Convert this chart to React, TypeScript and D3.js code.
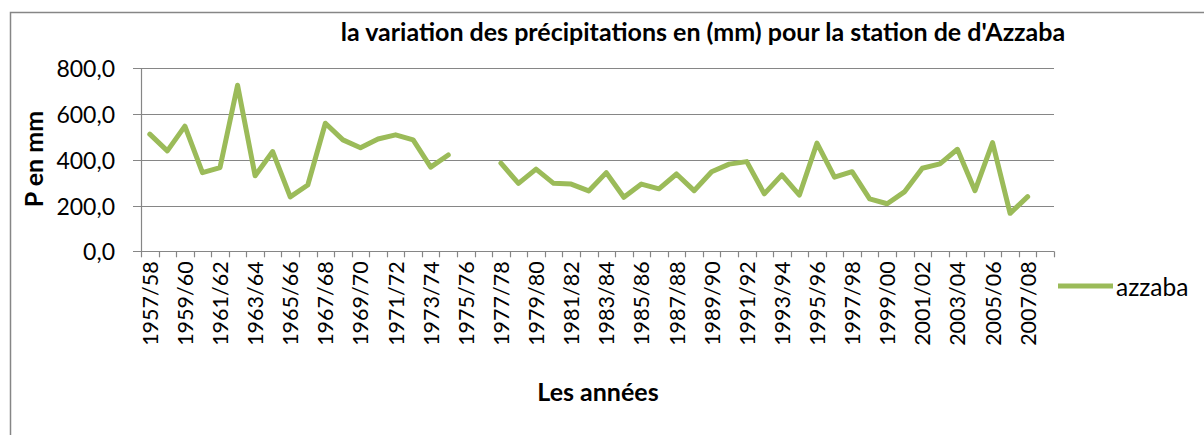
import React, { useRef, useEffect } from "react";
import * as d3 from "d3";

// season labels, 1957/58 .. 2008/09
const years: string[] = [];
for (let y = 1957; y <= 2008; y++) {
  years.push(`${y}/${String((y + 1) % 100).padStart(2, "0")}`);
}

// precipitation (mm), null = missing year
const azzaba: (number | null)[] = [
  512, 439, 547, 344, 366, 726, 330, 436, 238, 290,
  560, 487, 453, 491, 509, 487, 368, 421, null, null,
  385, 297, 359, 297, 294, 264, 344, 236, 294, 273,
  338, 265, 348, 381, 392, 251, 334, 246, 473, 324,
  348, 229, 208, 261, 363, 382, 446, 265, 475, 166,
  239, null,
];

const yTicks = [0, 200, 400, 600, 800];

const W = 1204;
const H = 435;
const font = "Lato, 'Open Sans', sans-serif";
const grey = "#868686";
const green = "#9BBB59";

export default function App() {
  const svgRef = useRef<SVGSVGElement | null>(null);

  useEffect(() => {
    const svg = d3.select(svgRef.current);
    svg.selectAll("*").remove();

    const left = 141;
    const right = 1054;
    const top = 68.3;
    const bottom = 251.3;

    // outer chart frame
    svg
      .append("rect")
      .attr("x", 10.5)
      .attr("y", 12.5)
      .attr("width", 1300)
      .attr("height", 600)
      .attr("fill", "#fff")
      .attr("stroke", grey)
      .attr("stroke-width", 1.5);

    const x = d3.scaleBand().domain(years).range([left, right]);
    const y = d3.scaleLinear().domain([0, 800]).range([bottom, top]);

    // gridlines + y ticks
    svg
      .append("g")
      .selectAll("line")
      .data(yTicks)
      .enter()
      .append("line")
      .attr("x1", left - 8)
      .attr("x2", right)
      .attr("y1", (d) => Math.round(y(d)) + 0.5)
      .attr("y2", (d) => Math.round(y(d)) + 0.5)
      .attr("stroke", grey)
      .attr("stroke-width", 1.2);

    svg
      .append("g")
      .selectAll("text")
      .data(yTicks)
      .enter()
      .append("text")
      .attr("x", left - 26)
      .attr("y", (d) => y(d))
      .attr("text-anchor", "end")
      .attr("dominant-baseline", "central")
      .attr("font-family", font)
      .attr("font-size", 23)
      .attr("fill", "#000")
      .text((d) => d3.format(".1f")(d).replace(".", ","));

    // y axis line
    svg
      .append("line")
      .attr("x1", left + 0.5)
      .attr("x2", left + 0.5)
      .attr("y1", top)
      .attr("y2", bottom)
      .attr("stroke", grey)
      .attr("stroke-width", 1.2);

    // x axis ticks at category boundaries
    const bounds = years.map((d) => x(d) as number).concat([right]);
    svg
      .append("g")
      .selectAll("line")
      .data(bounds)
      .enter()
      .append("line")
      .attr("x1", (d) => Math.round(d) + 0.5)
      .attr("x2", (d) => Math.round(d) + 0.5)
      .attr("y1", bottom)
      .attr("y2", bottom + 6)
      .attr("stroke", grey)
      .attr("stroke-width", 1.2);

    // x labels, every other year
    svg
      .append("g")
      .selectAll("text")
      .data(years.filter((d, i) => i % 2 === 0))
      .enter()
      .append("text")
      .attr("transform", (d) => {
        const cx = (x(d) as number) + x.bandwidth() / 2;
        return `translate(${cx},${bottom + 10}) rotate(-90)`;
      })
      .attr("text-anchor", "end")
      .attr("dominant-baseline", "central")
      .attr("font-family", font)
      .attr("font-size", 21.5)
      .attr("fill", "#000")
      .text((d) => d);

    // series line
    const line = d3
      .line<number | null>()
      .defined((d) => d !== null)
      .x((d, i) => (x(years[i]) as number) + x.bandwidth() / 2)
      .y((d) => y(d as number));

    svg
      .append("path")
      .datum(azzaba)
      .attr("d", line)
      .attr("fill", "none")
      .attr("stroke", green)
      .attr("stroke-width", 5)
      .attr("stroke-linejoin", "round")
      .attr("stroke-linecap", "round");

    // title
    svg
      .append("text")
      .attr("x", 703)
      .attr("y", 41)
      .attr("text-anchor", "middle")
      .attr("font-family", font)
      .attr("font-weight", 700)
      .attr("font-size", 25)
      .attr("fill", "#000")
      .text("la variation des précipitations en (mm) pour la station de d'Azzaba");

    // axis titles
    svg
      .append("text")
      .attr("transform", "translate(33,159) rotate(-90)")
      .attr("text-anchor", "middle")
      .attr("dominant-baseline", "central")
      .attr("font-family", font)
      .attr("font-weight", 700)
      .attr("font-size", 25)
      .attr("fill", "#000")
      .text("P en mm");

    svg
      .append("text")
      .attr("x", 598)
      .attr("y", 391)
      .attr("text-anchor", "middle")
      .attr("dominant-baseline", "central")
      .attr("font-family", font)
      .attr("font-weight", 700)
      .attr("font-size", 25)
      .attr("fill", "#000")
      .text("Les années");

    // legend
    svg
      .append("line")
      .attr("x1", 1058)
      .attr("x2", 1113)
      .attr("y1", 286)
      .attr("y2", 286)
      .attr("stroke", green)
      .attr("stroke-width", 5);

    svg
      .append("text")
      .attr("x", 1116)
      .attr("y", 286)
      .attr("dominant-baseline", "central")
      .attr("font-family", font)
      .attr("font-size", 24.5)
      .attr("fill", "#000")
      .text("azzaba");
  }, []);

  return (
    <svg
      ref={svgRef}
      width={W}
      height={H}
      viewBox={`0 0 ${W} ${H}`}
      style={{ position: "absolute", left: 0, top: 0, display: "block", background: "#fff" }}
    />
  );
}
